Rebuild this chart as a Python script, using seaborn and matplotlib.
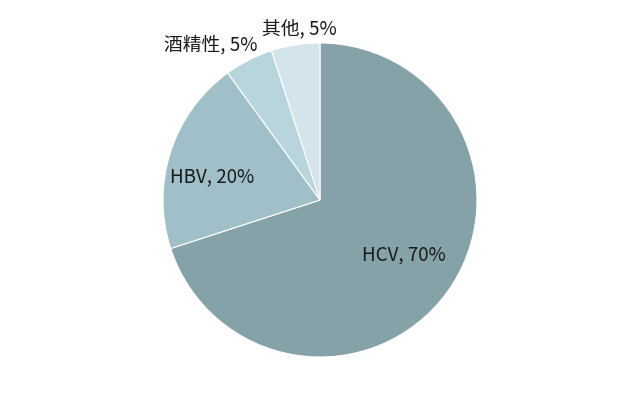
import numpy as np
import seaborn as sns
import matplotlib.pyplot as plt

# data
labels = ["HCV", "HBV", "酒精性", "其他"]
shares = [70, 20, 5, 5]
colors = ["#84A2A8", "#A0BFC8", "#B8D4DC", "#D3E4EA"]
# label placement: radius (fraction of pie radius) and angle shift from slice middle
label_dist = [0.64, 0.70, 1.21, 1.10]
label_shift = [3, 6, 8, -2]

sns.set_theme(style="white")
plt.rcParams["font.family"] = ["Noto Sans CJK SC", "DejaVu Sans"]

fig = plt.figure(figsize=(6.4, 4.0), dpi=100)
# pie: centre ~ (320, 200) px, radius ~157 px
ax = fig.add_axes([(320 - 157) / 640, (200 - 157) / 400, 314 / 640, 314 / 400])

wedges, _ = ax.pie(shares, colors=colors, startangle=90, counterclock=False,
                   wedgeprops=dict(edgecolor="white", linewidth=0.8))
ax.set_xlim(-1, 1)
ax.set_ylim(-1, 1)
ax.set_aspect("equal")

for w, name, val, d, s in zip(wedges, labels, shares, label_dist, label_shift):
    mid = np.deg2rad((w.theta1 + w.theta2) / 2 + s)
    ax.text(d * np.cos(mid), d * np.sin(mid), f"{name}, {val}%",
            ha="center", va="center", fontsize=13.5, color="#1a1a1a",
            clip_on=False)

fig.savefig("out.png", dpi=100, facecolor="white")
